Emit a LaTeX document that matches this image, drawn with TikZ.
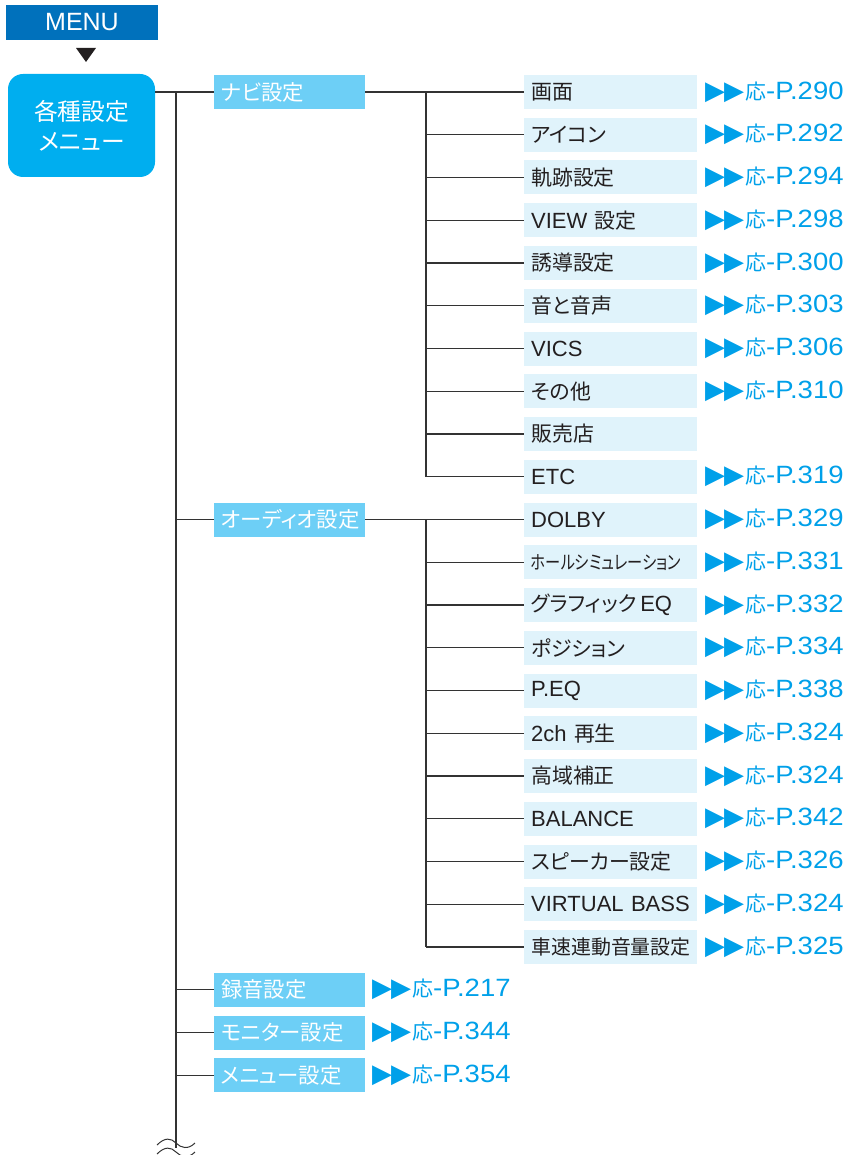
\documentclass[tikz,border=0pt]{standalone}
\usepackage{fontspec}
\usepackage{graphicx}
\usepackage{xcolor}
\usepackage{tikz}
\setmainfont{Liberation Sans}
\newfontfamily\jp{Noto Sans CJK JP}[Scale=0.95,RawFeature=+palt]
\newfontfamily\symfont{DejaVu Sans}
\newfontfamily\linkfont{Liberation Sans}[FakeStretch=1.1]
\definecolor{menublue}{HTML}{0071BC}
\definecolor{topcyan}{HTML}{00AEEF}
\definecolor{catblue}{HTML}{6DCFF6}
\definecolor{itemfill}{HTML}{E0F3FB}
\definecolor{linkblue}{HTML}{00A0E9}
\definecolor{wire}{HTML}{333333}
\definecolor{textgray}{HTML}{231F20}
\newcommand{\pg}[1]{{\symfont\fontsize{26}{26}\selectfont ▶\kern-1pt▶}\kern1pt{\jp\fontsize{22}{22}\selectfont 応}-P.#1}

\begin{document}
\begin{tikzpicture}[x=1pt,y=-1pt,
  wire/.style={draw=wire, line width=1.3pt},
  menubox/.style={fill=menublue, text=white, minimum width=152pt, minimum height=35pt, inner sep=0pt, font=\fontsize{25}{25}\selectfont},
  topbox/.style={fill=topcyan, rounded corners=15pt, text=white, minimum width=147pt, minimum height=103pt, align=center, font=\jp\fontsize{25}{30}\selectfont},
  cat/.style={fill=catblue, text=white, anchor=west, minimum height=34pt, text width=137pt, inner xsep=7pt, inner ysep=0pt, align=left, font=\jp\fontsize{22.5}{24}\selectfont},
  item/.style={fill=itemfill, text=textgray, anchor=west, minimum height=34pt, text width=159pt, inner xsep=7pt, inner ysep=0pt, align=left, font=\fontsize{22}{24}\selectfont},
  linkto/.style={anchor=west, inner sep=0pt, text=linkblue, font=\linkfont\fontsize{25}{25}\selectfont}]
\useasboundingbox (0,0) rectangle (848,1155);
\node[menubox] (menu) at (82,22.5) {MENU};
\fill[textgray] (76,48) -- (96,48) -- (86,62) -- cycle;
\node[topbox] (top) at (81.5,125.5) {各種設定\\メニュー};
% first level
\node[cat] (nav) at (214,92) {ナビ設定};
\node[cat] (audio) at (214,519.5) {オーディオ設定};
\node[cat] (rec) at (214,989.75) {録音設定};
\node[cat] (mon) at (214,1032.5) {モニター設定};
\node[cat] (mset) at (214,1075.25) {メニュー設定};
\node[linkto] (lrec) at (372,989.75) {\pg{217}};
\node[linkto] (lmon) at (372,1032.5) {\pg{344}};
\node[linkto] (lmset) at (372,1075.25) {\pg{354}};
% navi items
\node[item] (i1) at (524,92) {{\jp 画面}};
\node[item] (i2) at (524,134.75) {{\jp アイコン}};
\node[item] (i3) at (524,177.5) {{\jp 軌跡設定}};
\node[item] (i4) at (524,220.25) {VIEW {\jp 設定}};
\node[item] (i5) at (524,263) {{\jp 誘導設定}};
\node[item] (i6) at (524,305.75) {{\jp 音と音声}};
\node[item] (i7) at (524,348.5) {VICS};
\node[item] (i8) at (524,391.25) {{\jp その他}};
\node[item] (i9) at (524,434) {{\jp 販売店}};
\node[item] (i10) at (524,476.75) {ETC};
% audio items
\node[item] (i11) at (524,519.5) {DOLBY};
\node[item] (i12) at (524,562.25) {\scalebox{0.8}[1]{\jp\fontsize{20}{20}\selectfont ホールシミュレーション}};
\node[item] (i13) at (524,605) {{\jp グラフィック}\,EQ};
\node[item] (i14) at (524,647.75) {{\jp ポジション}};
\node[item] (i15) at (524,690.5) {P.EQ};
\node[item] (i16) at (524,733.25) {2ch {\jp 再生}};
\node[item] (i17) at (524,776) {{\jp 高域補正}};
\node[item] (i18) at (524,818.75) {BALANCE};
\node[item] (i19) at (524,861.5) {{\jp スピーカー設定}};
\node[item] (i20) at (524,904.25) {VIRTUAL BASS};
\node[item] (i21) at (524,947) {{\jp\fontsize{21}{21}\selectfont 車速連動音量設定}};
% page refs
\node[linkto] (l1) at (705,92) {\pg{290}};
\node[linkto] (l2) at (705,134.75) {\pg{292}};
\node[linkto] (l3) at (705,177.5) {\pg{294}};
\node[linkto] (l4) at (705,220.25) {\pg{298}};
\node[linkto] (l5) at (705,263) {\pg{300}};
\node[linkto] (l6) at (705,305.75) {\pg{303}};
\node[linkto] (l7) at (705,348.5) {\pg{306}};
\node[linkto] (l8) at (705,391.25) {\pg{310}};
\node[linkto] (l10) at (705,476.75) {\pg{319}};
\node[linkto] (l11) at (705,519.5) {\pg{329}};
\node[linkto] (l12) at (705,562.25) {\pg{331}};
\node[linkto] (l13) at (705,605) {\pg{332}};
\node[linkto] (l14) at (705,647.75) {\pg{334}};
\node[linkto] (l15) at (705,690.5) {\pg{338}};
\node[linkto] (l16) at (705,733.25) {\pg{324}};
\node[linkto] (l17) at (705,776) {\pg{324}};
\node[linkto] (l18) at (705,818.75) {\pg{342}};
\node[linkto] (l19) at (705,861.5) {\pg{326}};
\node[linkto] (l20) at (705,904.25) {\pg{324}};
\node[linkto] (l21) at (705,947) {\pg{325}};
% tree lines
\coordinate (trunk) at (176,92);
\coordinate (trunkend) at (176,1148);
\coordinate (navbus) at (426,92);
\coordinate (audbus) at (426,519.5);
\draw[wire] (top.east |- nav) -- (nav.west);
\draw[wire] (trunk) -- (trunkend);
\foreach \c in {audio,rec,mon,mset} \draw[wire] (\c.west -| trunk) -- (\c.west);
\draw[wire] (nav.east) -- (i1.west);
\draw[wire] (navbus) -- (i10.west -| navbus);
\foreach \n in {2,...,10} \draw[wire] (i\n.west -| navbus) -- (i\n.west);
\draw[wire] (audio.east) -- (i11.west);
\draw[wire] (audbus) -- (i21.west -| audbus);
\foreach \n in {12,...,21} \draw[wire] (i\n.west -| audbus) -- (i\n.west);
% break mark
\draw[wire, line width=1pt] (157,1145) .. controls (165,1137) and (171,1138) .. (176,1143) .. controls (181,1148) and (188,1150) .. (195,1143);
\draw[wire, line width=1pt] (157,1154) .. controls (165,1146) and (171,1147) .. (176,1152) .. controls (181,1157) and (188,1159) .. (195,1152);
\end{tikzpicture}
\end{document}
